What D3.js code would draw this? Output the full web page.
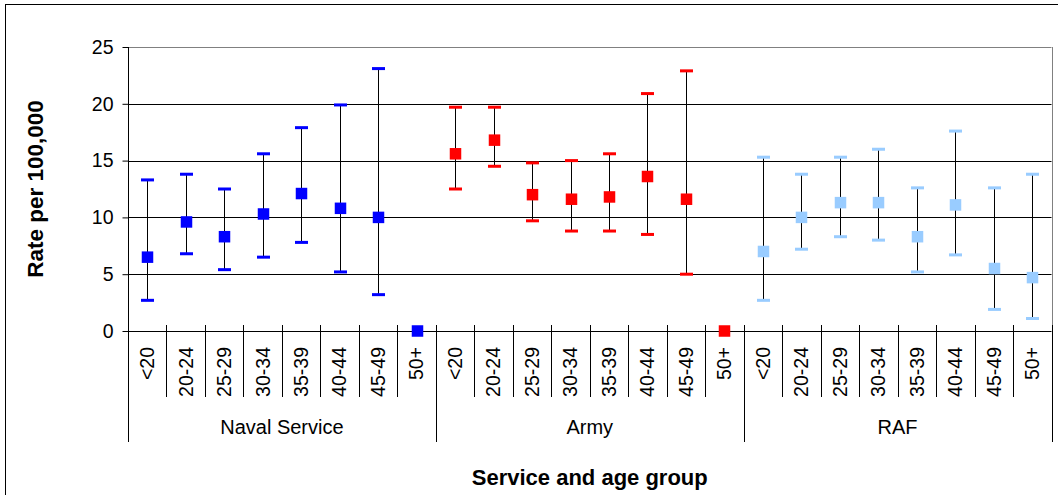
<!DOCTYPE html>
<html>
<head>
<meta charset="utf-8">
<script src="https://cdn.jsdelivr.net/npm/d3@7"></script>
<style>
  body { margin: 0; background: #fff; }
  svg { display: block; font-family: "Liberation Sans", Arial, sans-serif; }
</style>
</head>
<body>
<div id="chart"></div>
<script>
const services = ["Naval Service", "Army", "RAF"];
const ageGroups = ["<20", "20-24", "25-29", "30-34", "35-39", "40-44", "45-49", "50+"];
const colours = ["#0000ff", "#ff0000", "#99ccff"];

// rate per 100,000 with lower / upper confidence limits (null = no bar)
const navalRate  = [6.5, 9.6, 8.3, 10.3, 12.1, 10.8, 10.0, 0];
const navalLower = [2.7, 6.8, 5.4, 6.5, 7.8, 5.2, 3.2, null];
const navalUpper = [13.3, 13.8, 12.5, 15.6, 17.9, 19.9, 23.1, null];

const armyRate  = [15.6, 16.8, 12.0, 11.6, 11.8, 13.6, 11.6, 0];
const armyLower = [12.5, 14.5, 9.7, 8.8, 8.8, 8.5, 5.0, null];
const armyUpper = [19.7, 19.7, 14.8, 15.0, 15.6, 20.9, 22.9, null];

const rafRate  = [7.0, 10.0, 11.3, 11.3, 8.3, 11.1, 5.5, 4.7];
const rafLower = [2.7, 7.2, 8.3, 8.0, 5.2, 6.7, 1.9, 1.1];
const rafUpper = [15.3, 13.8, 15.3, 16.0, 12.6, 17.6, 12.6, 13.8];

const yTicks = [0, 5, 10, 15, 20, 25];

const width = 1058;
const height = 495;
const plotLeft = 128, plotRight = 1051.5, plotTop = 47, plotBottom = 331;

const series = [
  { rate: navalRate, lower: navalLower, upper: navalUpper },
  { rate: armyRate, lower: armyLower, upper: armyUpper },
  { rate: rafRate, lower: rafLower, upper: rafUpper }
];

const points = [];
series.forEach((s, si) => {
  ageGroups.forEach((a, ai) => {
    points.push({
      key: si + "|" + a,
      service: si,
      rate: s.rate[ai],
      lower: s.lower[ai],
      upper: s.upper[ai]
    });
  });
});

const x = d3.scaleBand()
  .domain(points.map(d => d.key))
  .range([plotLeft, plotRight]);

const y = d3.scaleLinear()
  .domain([0, 25])
  .range([plotBottom, plotTop]);

const cx = d => Math.round(x(d.key) + x.bandwidth() / 2) + 0.5;

const svg = d3.select("#chart").append("svg")
  .attr("width", width)
  .attr("height", height);

// outer chart border
svg.append("rect")
  .attr("x", 5.5).attr("y", 4.5)
  .attr("width", width + 10).attr("height", height + 10)
  .attr("fill", "none").attr("stroke", "#000");

// grid lines
svg.append("g")
  .selectAll("line")
  .data(yTicks.filter(t => t > 0))
  .join("line")
  .attr("x1", plotLeft).attr("x2", plotRight)
  .attr("y1", d => Math.round(y(d)) + 0.5)
  .attr("y2", d => Math.round(y(d)) + 0.5)
  .attr("stroke", d => d === 25 ? "#808080" : "#000");

// right border of plot area
svg.append("line")
  .attr("x1", Math.round(plotRight) + 0.5).attr("x2", Math.round(plotRight) + 0.5)
  .attr("y1", plotTop).attr("y2", plotBottom)
  .attr("stroke", "#808080");

// y axis
const yAxis = svg.append("g")
  .attr("transform", `translate(${plotLeft + 0.5},0)`)
  .call(d3.axisLeft(y).tickValues(yTicks).tickSize(6).tickPadding(9));
yAxis.select(".domain").remove();
yAxis.selectAll(".tick line").attr("stroke", "#000");
yAxis.selectAll(".tick text")
  .attr("font-size", 19.5)
  .attr("font-family", "Liberation Sans, Arial, sans-serif")
  .attr("fill", "#000");

svg.append("line")
  .attr("x1", plotLeft + 0.5).attr("x2", plotLeft + 0.5)
  .attr("y1", plotTop).attr("y2", 442)
  .attr("stroke", "#000");

// x axis line
svg.append("line")
  .attr("x1", plotLeft).attr("x2", plotRight)
  .attr("y1", plotBottom + 0.5).attr("y2", plotBottom + 0.5)
  .attr("stroke", "#000");

// category boundaries
const bounds = d3.range(1, points.length + 1);
svg.append("g")
  .selectAll("line")
  .data(bounds)
  .join("line")
  .attr("x1", i => Math.round(plotLeft + x.step() * i) + 0.5)
  .attr("x2", i => Math.round(plotLeft + x.step() * i) + 0.5)
  .attr("y1", 325)
  .attr("y2", i => i % ageGroups.length === 0 ? 442 : 397)
  .attr("stroke", "#000");

// age group labels
svg.append("g")
  .selectAll("text")
  .data(points)
  .join("text")
  .attr("transform", d => `translate(${x(d.key) + x.bandwidth() / 2},347) rotate(-90)`)
  .attr("text-anchor", "end")
  .attr("dy", "0.35em")
  .attr("font-size", 19.5)
  .text(d => d.key.split("|")[1]);

// service labels
svg.append("g")
  .selectAll("text")
  .data(services)
  .join("text")
  .attr("x", (d, i) => plotLeft + x.step() * ageGroups.length * (i + 0.5))
  .attr("y", 434)
  .attr("text-anchor", "middle")
  .attr("font-size", 20)
  .text(d => d);

// axis titles
svg.append("text")
  .attr("x", (plotLeft + plotRight) / 2)
  .attr("y", 485)
  .attr("text-anchor", "middle")
  .attr("font-size", 22)
  .attr("font-weight", "bold")
  .text("Service and age group");

svg.append("text")
  .attr("transform", `translate(43,${(plotTop + plotBottom) / 2}) rotate(-90)`)
  .attr("text-anchor", "middle")
  .attr("font-size", 22.5)
  .attr("font-weight", "bold")
  .text("Rate per 100,000");

// error bars
const withBars = points.filter(d => d.lower !== null);
const bars = svg.append("g");
bars.selectAll("line.whisker")
  .data(withBars)
  .join("line")
  .attr("class", "whisker")
  .attr("x1", cx)
  .attr("x2", cx)
  .attr("y1", d => y(d.lower))
  .attr("y2", d => y(d.upper))
  .attr("stroke", "#000");

const capW = 13, capH = 3;
bars.selectAll("rect.cap")
  .data(withBars.flatMap(d => [{ d, v: d.upper }, { d, v: d.lower }]))
  .join("rect")
  .attr("class", "cap")
  .attr("x", c => cx(c.d) - capW / 2)
  .attr("y", c => y(c.v) - capH / 2)
  .attr("width", capW)
  .attr("height", capH)
  .attr("fill", c => colours[c.d.service]);

// markers
const sz = 11.5;
svg.append("g")
  .selectAll("rect.marker")
  .data(points)
  .join("rect")
  .attr("class", "marker")
  .attr("x", d => cx(d) - sz / 2)
  .attr("y", d => y(d.rate) - sz / 2)
  .attr("width", sz)
  .attr("height", sz)
  .attr("fill", d => colours[d.service]);
</script>
</body>
</html>
